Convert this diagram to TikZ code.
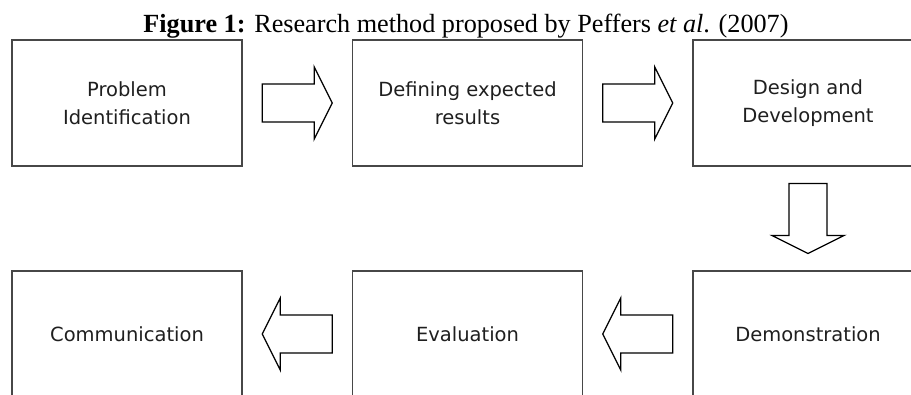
\documentclass[tikz,border=0pt]{standalone}
\usepackage{fontspec}
\usetikzlibrary{calc}
\setmainfont{DejaVu Sans}
\newfontfamily\capfont{Liberation Serif}
\begin{document}
\begin{tikzpicture}[x=1pt,y=-1pt,
  stepbox/.style={draw=black!72, line width=1.6pt, minimum width=230pt, minimum height=126pt,
    inner sep=0pt, align=center, text=black!88, font=\fontsize{19.5}{27.5}\selectfont},
  barrow/.pic={\draw[line width=1.3pt, line join=miter, fill=white]
    (-35,-19) -- (17,-19) -- (17,-36) -- (35,0) -- (17,36) -- (17,19) -- (-35,19) -- cycle;}
]
\useasboundingbox (0,0) rectangle (911,394);
\clip (0,0) rectangle (911,394);
\fill[white] (0,0) rectangle (911,394);
\node[anchor=base, inner sep=0pt, font=\capfont\fontsize{26.2}{30}\selectfont] (cap) at (466,32)
  {\textbf{Figure 1:} Research method proposed by Peffers \textit{et al}. (2007)};
\node[stepbox] (b1) at (127,103) {Problem\\Identification};
\node[stepbox] (b2) at (467.5,103) {Defining expected\\results};
\node[stepbox] (b3) at (808,103) {Design and\\Development};
\node[stepbox] (b4) at (127,334) {Communication};
\node[stepbox] (b5) at (467.5,334) {Evaluation};
\node[stepbox] (b6) at (808,334) {Demonstration};
\coordinate (m12) at ($(b1.east)!0.5!(b2.west)$);
\coordinate (m23) at ($(b2.east)!0.5!(b3.west)$);
\coordinate (m36) at ($(b3.south)!0.5!(b6.north)$);
\coordinate (m65) at ($(b6.west)!0.5!(b5.east)$);
\coordinate (m54) at ($(b5.west)!0.5!(b4.east)$);
\path (m12) pic {barrow};
\path (m23) pic {barrow};
\path (m36) pic[rotate=-90] {barrow};
\path (m65) pic[rotate=180] {barrow};
\path (m54) pic[rotate=180] {barrow};
\end{tikzpicture}
\end{document}
